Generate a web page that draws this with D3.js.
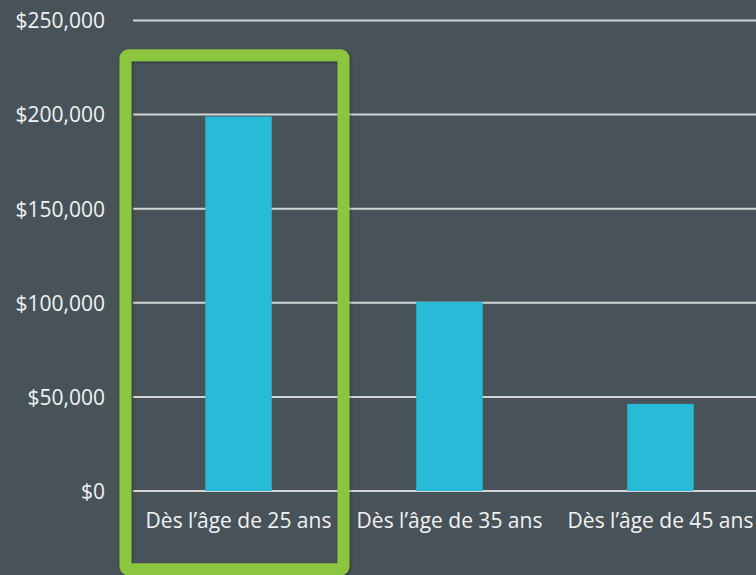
<!DOCTYPE html>
<html>
<head>
<meta charset="utf-8">
<script src="https://cdn.jsdelivr.net/npm/d3@7"></script>
<style>
  html, body { margin: 0; padding: 0; background: #475359; }
  svg { display: block; }
</style>
</head>
<body>
<svg id="chart" width="756" height="575"></svg>
<script>
const categories = ["Dès l’âge de 25 ans", "Dès l’âge de 35 ans", "Dès l’âge de 45 ans"];
const values = [199000, 100500, 46300];
const yTicks = [0, 50000, 100000, 150000, 200000, 250000];
const highlightIndex = 0;

const W = 756, H = 575;
const svg = d3.select("#chart");
svg.append("rect").attr("width", W).attr("height", H).attr("fill", "#475359");

const x = d3.scaleBand().domain(categories).range([133, 766]).paddingInner(0.685).paddingOuter(0.3425);
const y = d3.scaleLinear().domain([0, 250000]).range([491, 20.5]);

const fmt = v => "$" + d3.format(",")(v);

// grid lines
svg.append("g").selectAll("line").data(yTicks).join("line")
  .attr("x1", 133).attr("x2", W)
  .attr("y1", d => y(d)).attr("y2", d => y(d))
  .attr("stroke", "#d2d4d5").attr("stroke-width", 2);

// y axis labels
const yAxis = d3.axisLeft(y).tickValues(yTicks).tickFormat(fmt).tickSize(0).tickPadding(0);
const gy = svg.append("g").attr("transform", "translate(105,0)").call(yAxis);
gy.select(".domain").remove();
gy.selectAll("text")
  .attr("fill", "#f2f2f2")
  .attr("font-family", "'Open Sans', sans-serif")
  .attr("font-size", 21)
  .attr("dy", "0.35em");

// bars
svg.append("g").selectAll("rect").data(values).join("rect")
  .attr("x", (d, i) => x(categories[i]))
  .attr("width", x.bandwidth())
  .attr("y", d => y(d))
  .attr("height", d => y(0) - y(d))
  .attr("fill", "#27bbd7");

// x labels
const xAxis = d3.axisBottom(x).tickSize(0).tickPadding(0);
const gx = svg.append("g").attr("transform", "translate(0,491)").call(xAxis);
gx.select(".domain").remove();
gx.selectAll("text")
  .attr("fill", "#f2f2f2")
  .attr("font-family", "'Open Sans', sans-serif")
  .attr("font-size", 21)
  .attr("dy", 0)
  .attr("y", 37);

// highlight box
const defs = svg.append("defs");
const f = defs.append("filter").attr("id", "sh").attr("x", "-10%").attr("y", "-10%").attr("width", "120%").attr("height", "120%");
f.append("feDropShadow").attr("dx", 1).attr("dy", 1).attr("stdDeviation", 1.5).attr("flood-color", "#000").attr("flood-opacity", 0.35);

const cx = x(categories[highlightIndex]) + x.bandwidth() / 2;
svg.append("rect")
  .attr("x", cx - 113).attr("y", 55.3)
  .attr("width", 218).attr("height", 514)
  .attr("rx", 3).attr("ry", 3)
  .attr("fill", "none")
  .attr("stroke", "#8cc63f")
  .attr("stroke-width", 12)
  .attr("filter", "url(#sh)");
</script>
</body>
</html>
